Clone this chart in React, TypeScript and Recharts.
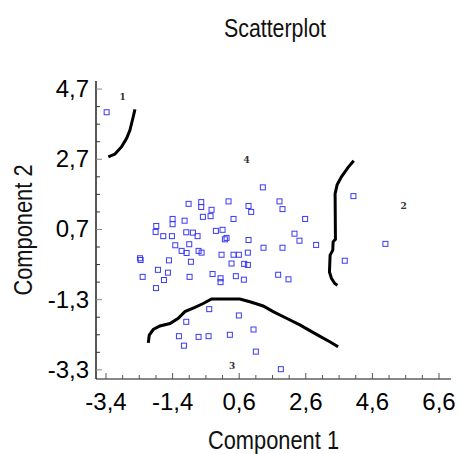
import { ScatterChart, Scatter, XAxis, YAxis } from 'recharts'

// observations (Component 1, Component 2)
const comp1 = [
  -3.38, 1.31, -0.92, -0.54, -0.54, -0.23, 0.28, 0.88, 0.96, -0.49, -0.26, 0.43, -1.4, -1.4, -1.04, -1.89,
  1.81, 1.9, 2.58, 4.03, 2.26, 2.41, 2.91, 1.33, 1.9, 4.99, 3.77, 1.77, 2.08, -1.91, -1.68, -1.42,
  -0.99, -0.79, -0.65, -0.1, 0.1, 0.17, 0.22, 0.88, -1.32, -0.9, -1.13, -0.98, -0.62, -0.53, 0.07, 0.43,
  0.59, 0.86, -2.38, -2.36, -1.51, -0.85, 0.37, 0.75, 0.86, -1.84, -1.54, -2.3, -1.66, -0.89, -0.2, 0.04,
  0.04, 0.5, 0.74, -1.9, -0.3, 0.59, -0.99, 1.03, -1.21, -0.62, -0.32, 0.32, -1.06, 1.1, 1.85,
]
const comp2 = [
  4.04, 1.9, 1.43, 1.48, 1.34, 1.26, 1.5, 1.37, 1.2, 1.06, 1.08, 1.0, 1.0, 0.85, 0.95, 0.8,
  1.5, 1.28, 1.0, 1.65, 0.58, 0.38, 0.26, 0.18, 0.18, 0.29, -0.19, -0.59, -0.72, 0.63, 0.51, 0.51,
  0.62, 0.61, 0.51, 0.66, 0.69, 0.42, 0.46, 0.4, 0.25, 0.28, 0.09, 0.03, 0.09, 0.04, -0.02, -0.02,
  -0.02, 0.04, -0.12, -0.17, -0.18, -0.22, -0.27, -0.28, -0.31, -0.45, -0.53, -0.65, -0.74, -0.65, -0.57, -0.69,
  -0.8, -0.63, -0.73, -0.97, -1.57, -1.75, -1.93, -2.15, -2.34, -2.36, -2.34, -2.3, -2.61, -2.78, -3.28,
]

// cluster boundary curves
const curve1X = [-3.33, -3.13, -2.93, -2.78, -2.68, -2.6, -2.53]
const curve1Y = [2.77, 2.85, 3.06, 3.3, 3.53, 3.84, 4.12]
const curve2X = [4.04, 3.87, 3.67, 3.54, 3.48, 3.49, 3.42, 3.41, 3.33, 3.31, 3.37, 3.47, 3.55]
const curve2Y = [2.66, 2.47, 2.2, 1.97, 1.72, 0.42, 0.35, 0.11, -0.03, -0.51, -0.69, -0.84, -0.89]
const curve3X = [-2.13, -2.1, -1.98, -1.78, -1.48, -1.23, -1.03, -0.73, -0.48, -0.23, 0.12, 0.62, 0.92, 1.32, 1.62, 2.02, 2.42, 2.92, 3.32, 3.57]
const curve3Y = [-2.53, -2.31, -2.15, -2.05, -1.98, -1.83, -1.64, -1.52, -1.41, -1.28, -1.28, -1.28, -1.36, -1.48, -1.64, -1.83, -2.02, -2.29, -2.5, -2.64]

// cluster numbers
const clusterNames = ['1', '2', '3', '4']
const clusterX = [-2.9, 5.54, 0.39, 0.82]
const clusterY = [4.48, 1.38, -3.18, 2.68]

const xMajor = [-3.4, -1.4, 0.6, 2.6, 4.6, 6.6]
const xTicks = [-3.4, -2.9, -2.4, -1.9, -1.4, -0.9, -0.4, 0.1, 0.6, 1.1, 1.6, 2.1, 2.6, 3.1, 3.6, 4.1, 4.6, 5.1, 5.6, 6.1, 6.6]
const yMajor = [-3.3, -1.3, 0.7, 2.7, 4.7]
const yTicks = [-3.3, -2.8, -2.3, -1.8, -1.3, -0.8, -0.3, 0.2, 0.7, 1.2, 1.7, 2.2, 2.7, 3.2, 3.7, 4.2, 4.7]

const W = 460
const H = 454
const LEFT = 96
const TOP = 81
const RIGHT = 451
const BOTTOM = 379
const TICK_FONT = '"Liberation Sans", Arial, sans-serif'
const TITLE_FONT = '"Liberation Sans", Arial, sans-serif'

const zip = (xs: number[], ys: number[]) => xs.map((x, i) => ({ x, y: ys[i] }))
const fmt = (v: number) => v.toFixed(1).replace('.', ',')

const points = zip(comp1, comp2)
const labels = clusterNames.map((name, i) => ({ x: clusterX[i], y: clusterY[i], name }))

function BottomTick({ x, payload }: any) {
  const major = xMajor.includes(payload.value)
  return (
    <g>
      <line x1={x} x2={x} y1={BOTTOM} y2={BOTTOM - (major ? 6 : 4)} stroke="#555" />
      {major && (
        <text x={x} y={BOTTOM + 31} textAnchor="middle" fontSize={24} fontFamily={TICK_FONT} fill="#000">
          {fmt(payload.value)}
        </text>
      )}
    </g>
  )
}

function TopTick({ x, payload }: any) {
  const major = xMajor.includes(payload.value)
  return <line x1={x} x2={x} y1={TOP} y2={TOP + (major ? 6 : 4)} stroke="#666" />
}

function LeftTick({ y, payload }: any) {
  const major = yMajor.includes(payload.value)
  return (
    <g>
      <line x1={LEFT} x2={LEFT + (major ? 6 : 4)} y1={y} y2={y} stroke={major ? '#888' : '#333'} />
      {major && (
        <text x={LEFT - 7} y={y + 8} textAnchor="end" fontSize={24} fontFamily={TICK_FONT} fill="#000">
          {fmt(payload.value)}
        </text>
      )}
    </g>
  )
}

function RightTick({ y, payload }: any) {
  const major = yMajor.includes(payload.value)
  return <line x1={RIGHT} x2={RIGHT - (major ? 6 : 4)} y1={y} y2={y} stroke="#666" />
}

function SquareDot({ cx, cy }: any) {
  return <rect x={cx - 2.5} y={cy - 2.5} width={5} height={5} fill="none" stroke="#3a3af5" strokeWidth={1} />
}

function ClusterLabel({ cx, cy, payload }: any) {
  return (
    <text x={cx} y={cy + 3} textAnchor="middle" fontSize={9} fontWeight="bold" fontFamily='"DejaVu Serif", serif' fill="#333">
      {payload.name}
    </text>
  )
}

const noDot = () => <g />

const titleStyle = {
  position: 'absolute' as const,
  textAlign: 'center' as const,
  fontFamily: TITLE_FONT,
  fontSize: 26,
  lineHeight: '32px',
  color: '#111',
  whiteSpace: 'nowrap' as const,
}

export default function App() {
  return (
    <div style={{ position: 'absolute', left: 0, top: 0, width: W, height: H, background: '#fff' }}>
      <div style={{ ...titleStyle, left: 75, width: 400, top: 12, transform: 'scaleX(0.82)' }}>Scatterplot</div>
      <ScatterChart width={W} height={H} margin={{ top: TOP, right: W - RIGHT, bottom: 35, left: 36 }}>
        <XAxis
          type="number"
          dataKey="x"
          domain={[-3.7, 6.96]}
          allowDataOverflow
          ticks={xTicks}
          interval={0}
          height={40}
          tickSize={0}
          tickLine={false}
          axisLine={{ stroke: '#888', strokeWidth: 2 }}
          tick={<BottomTick />}
        />
        <XAxis
          xAxisId="top"
          orientation="top"
          type="number"
          dataKey="x"
          domain={[-3.7, 6.96]}
          allowDataOverflow
          ticks={xTicks}
          interval={0}
          height={0}
          tickSize={0}
          tickLine={false}
          axisLine={{ stroke: '#777', strokeWidth: 1.5 }}
          tick={<TopTick />}
        />
        <YAxis
          type="number"
          dataKey="y"
          domain={[-3.56, 4.93]}
          allowDataOverflow
          ticks={yTicks}
          interval={0}
          width={60}
          tickSize={0}
          tickLine={false}
          axisLine={{ stroke: '#222', strokeWidth: 1.5 }}
          tick={<LeftTick />}
        />
        <YAxis
          yAxisId="right"
          orientation="right"
          type="number"
          dataKey="y"
          domain={[-3.56, 4.93]}
          allowDataOverflow
          ticks={yTicks}
          interval={0}
          width={0}
          tickSize={0}
          tickLine={false}
          axisLine={{ stroke: '#888', strokeWidth: 2 }}
          tick={<RightTick />}
        />
        <Scatter data={zip(curve1X, curve1Y)} line={{ stroke: '#000', strokeWidth: 3 }} shape={noDot} isAnimationActive={false} />
        <Scatter data={zip(curve2X, curve2Y)} line={{ stroke: '#000', strokeWidth: 3 }} shape={noDot} isAnimationActive={false} />
        <Scatter data={zip(curve3X, curve3Y)} line={{ stroke: '#000', strokeWidth: 3 }} shape={noDot} isAnimationActive={false} />
        <Scatter data={points} shape={<SquareDot />} isAnimationActive={false} />
        <Scatter data={labels} shape={<ClusterLabel />} isAnimationActive={false} />
      </ScatterChart>
      <div style={{ ...titleStyle, left: LEFT - 50, width: RIGHT - LEFT + 100, top: 424, transform: 'scaleX(0.84)' }}>
        Component 1
      </div>
      <div
        style={{
          ...titleStyle,
          left: 23 - 100,
          top: (TOP + BOTTOM) / 2 - 16,
          width: 200,
          transform: 'rotate(-90deg) scaleX(0.84)',
        }}
      >
        Component 2
      </div>
    </div>
  )
}
